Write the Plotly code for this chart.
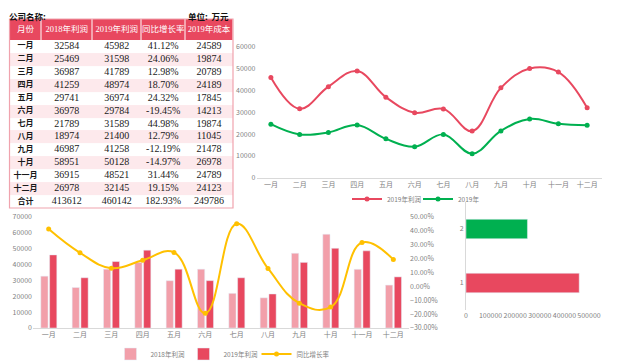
import plotly.graph_objects as go

months = ["一月", "二月", "三月", "四月", "五月", "六月", "七月", "八月", "九月", "十月", "十一月", "十二月"]
profit_2018 = [32584, 25469, 36987, 41259, 29741, 36978, 21789, 18974, 46987, 58951, 36915, 26978]
profit_2019 = [45982, 31598, 41789, 48974, 36974, 29784, 31589, 21400, 41258, 50128, 48521, 32145]
growth_pct = [41.12, 24.06, 12.98, 18.70, 24.32, -19.45, 44.98, 12.79, -12.19, -14.97, 31.44, 19.15]
cost_2019 = [24589, 19874, 20789, 24189, 17845, 14213, 19874, 11045, 21478, 26978, 24789, 24123]
table_header = ["月份", "2018年利润", "2019年利润", "同比增长率", "2019年成本"]
total_label = "合计"
hbar_cats = ["1", "2"]

# page body has an 8px margin, so the figure is 8px smaller than the window
OFF = 8
W, H = 640 - OFF, 363 - OFF
RED = "#E8485F"
PINK = "#F29FAA"
ROWPINK = "#FDE9EC"
GREEN = "#00B050"
GOLD = "#FFC000"
TICK = dict(family="Noto Sans CJK SC, Liberation Sans", size=7, color="#7F7F7F")
LEGF = dict(family="Noto Sans CJK SC, Liberation Sans", size=6.5, color="#7F7F7F")
SERIF = "Liberation Serif, Noto Sans CJK SC"


def px(x):
    return (x - OFF) / W


def py(y):
    return 1 - (y - OFF) / H


fig = go.Figure()

# ---------- table (drawn on its own hidden axes) ----------
col_widths = [32, 51, 49, 44, 48]
header_h, row_h = 21, 12.9
col_edges = [0]
for w in col_widths:
    col_edges.append(col_edges[-1] + w)
col_centers = [(col_edges[i] + col_edges[i + 1]) / 2 for i in range(len(col_widths))]

col_month = months + [total_label]
col_2018 = [str(v) for v in profit_2018] + [str(sum(profit_2018))]
col_2019 = [str(v) for v in profit_2019] + [str(sum(profit_2019))]
col_g = ["%.2f%%" % v for v in growth_pct] + ["%.2f%%" % sum(growth_pct)]
col_c = [str(v) for v in cost_2019] + [str(sum(cost_2019))]
columns = [col_month, col_2018, col_2019, col_g, col_c]
n = len(col_month)
row_edges = [header_h + i * row_h for i in range(n + 1)]
row_centers = [header_h + (i + 0.5) * row_h for i in range(n)]
total_h = row_edges[-1]

fig.add_trace(go.Heatmap(x=col_edges, y=[0, header_h], z=[[0] * len(col_widths)],
                         colorscale=[[0, RED], [1, RED]], showscale=False, xgap=1,
                         hoverinfo="skip", xaxis="x5", yaxis="y5"))
fig.add_trace(go.Heatmap(x=col_edges, y=row_edges, z=[[i % 2] * len(col_widths) for i in range(n)],
                         colorscale=[[0, "#FFFFFF"], [1, ROWPINK]], zmin=0, zmax=1,
                         showscale=False, hoverinfo="skip", xaxis="x5", yaxis="y5"))
fig.add_trace(go.Scatter(x=col_centers, y=[header_h / 2] * len(col_widths), text=table_header,
                         mode="text", textfont=dict(family=SERIF, size=8.5, color="white"),
                         hoverinfo="skip", showlegend=False, xaxis="x5", yaxis="y5"))
fig.add_trace(go.Scatter(x=[col_centers[0]] * n, y=row_centers, text=["<b>%s</b>" % m for m in col_month],
                         mode="text", textfont=dict(family=SERIF, size=8, color="#1A1A1A"),
                         hoverinfo="skip", showlegend=False, xaxis="x5", yaxis="y5"))
for ci in range(1, len(columns)):
    fig.add_trace(go.Scatter(x=[col_centers[ci]] * n, y=row_centers, text=columns[ci],
                             mode="text", textfont=dict(family=SERIF, size=10, color="#1A1A1A"),
                             hoverinfo="skip", showlegend=False, xaxis="x5", yaxis="y5"))

# ---------- top-right line chart ----------
fig.add_trace(go.Scatter(x=months, y=profit_2019, name="2019年利润", mode="lines+markers",
                         line=dict(color=RED, width=2, shape="spline", smoothing=1.1),
                         marker=dict(size=5, color=RED), xaxis="x", yaxis="y", legend="legend"))
fig.add_trace(go.Scatter(x=months, y=cost_2019, name="2019年", mode="lines+markers",
                         line=dict(color=GREEN, width=2, shape="spline", smoothing=1.1),
                         marker=dict(size=5, color=GREEN), xaxis="x", yaxis="y", legend="legend"))

# ---------- bottom combo chart ----------
fig.add_trace(go.Bar(x=months, y=profit_2018, name="2018年利润", marker=dict(color=PINK),
                     offset=-0.25, width=0.23, xaxis="x2", yaxis="y2", legend="legend2"))
fig.add_trace(go.Bar(x=months, y=profit_2019, name="2019年利润", marker=dict(color=RED),
                     offset=0.03, width=0.23, xaxis="x2", yaxis="y2", legend="legend2"))
fig.add_trace(go.Scatter(x=months, y=[v / 100 for v in growth_pct], name="同比增长率",
                         mode="lines+markers",
                         line=dict(color=GOLD, width=2, shape="spline", smoothing=1.2),
                         marker=dict(size=5, color=GOLD), xaxis="x2", yaxis="y3", legend="legend2"))

# ---------- horizontal bar ----------
fig.add_trace(go.Bar(y=hbar_cats, x=[sum(profit_2019), sum(cost_2019)], orientation="h",
                     marker=dict(color=[RED, GREEN]), width=0.36, showlegend=False,
                     xaxis="x4", yaxis="y4"))

axis_common = dict(tickfont=TICK, showgrid=False, zeroline=False, fixedrange=True, automargin=False)
cat_range = [-0.5, len(months) - 0.5]

fig.update_layout(
    width=W, height=H, margin=dict(l=0, r=0, t=0, b=0, autoexpand=False),
    paper_bgcolor="white", plot_bgcolor="rgba(0,0,0,0)",
    barmode="overlay",
    xaxis=dict(domain=[px(256.5), px(601.5)], anchor="y", type="category", range=cat_range,
               showline=True, linecolor="#D9D9D9", linewidth=1, ticks="", **axis_common),
    yaxis=dict(domain=[py(177.7), py(47)], anchor="x", range=[0, 60000], dtick=10000,
               tickformat="d", showline=False, ticks="", **axis_common),
    xaxis2=dict(domain=[px(33), px(409)], anchor="y2", type="category", range=cat_range,
                showline=True, linecolor="#D9D9D9", linewidth=1, ticks="", **axis_common),
    yaxis2=dict(domain=[py(328), py(216.7)], anchor="x2", range=[0, 70000], dtick=10000,
                tickformat="d", showline=False, ticks="", **axis_common),
    yaxis3=dict(domain=[py(328), py(216.7)], anchor="x2", overlaying="y2", side="right",
                range=[-0.3, 0.5], dtick=0.1, tickformat=".2%", showline=False, ticks="",
                **axis_common),
    xaxis4=dict(domain=[px(466), px(589)], anchor="y4", range=[0, 500000], dtick=100000,
                tickformat="d", tickangle=0, showline=False, ticks="", **axis_common),
    yaxis4=dict(domain=[py(310), py(202)], anchor="x4", type="category",
                showline=True, linecolor="#D9D9D9", linewidth=1, ticks="", **axis_common),
    xaxis5=dict(domain=[px(9.5), px(233)], anchor="y5", range=[0, col_edges[-1]], visible=False,
                fixedrange=True),
    yaxis5=dict(domain=[py(208), py(19)], anchor="x5", range=[total_h, 0], visible=False,
                fixedrange=True),
    legend=dict(orientation="h", x=px(418), xanchor="center", y=py(199), yanchor="middle",
                xref="container", yref="container",
                font=LEGF, bgcolor="rgba(0,0,0,0)", itemwidth=30, entrywidth=26,
                tracegroupgap=0),
    legend2=dict(orientation="h", x=px(220), xanchor="center", y=py(354), yanchor="middle",
                 xref="container", yref="container",
                 font=LEGF, bgcolor="rgba(0,0,0,0)", itemwidth=30, entrywidth=28,
                 tracegroupgap=0),
    annotations=[
        dict(text="<b>公司名称:</b>", x=px(7), y=py(8), xref="paper", yref="paper",
             xanchor="left", yanchor="top", showarrow=False,
             font=dict(family="Noto Sans CJK SC", size=8.5, color="#111111")),
        dict(text="<b>单位:  万元</b>", x=px(231), y=py(8), xref="paper", yref="paper",
             xanchor="right", yanchor="top", showarrow=False,
             font=dict(family="Noto Sans CJK SC", size=8.5, color="#111111")),
    ],
    shapes=[
        dict(type="rect", xref="paper", yref="paper", x0=px(9.5), x1=px(233), y0=py(208), y1=py(19),
             line=dict(color="#F0A3AE", width=1.2), fillcolor="rgba(0,0,0,0)", layer="above"),
    ],
)

fig.write_html("out.html")
